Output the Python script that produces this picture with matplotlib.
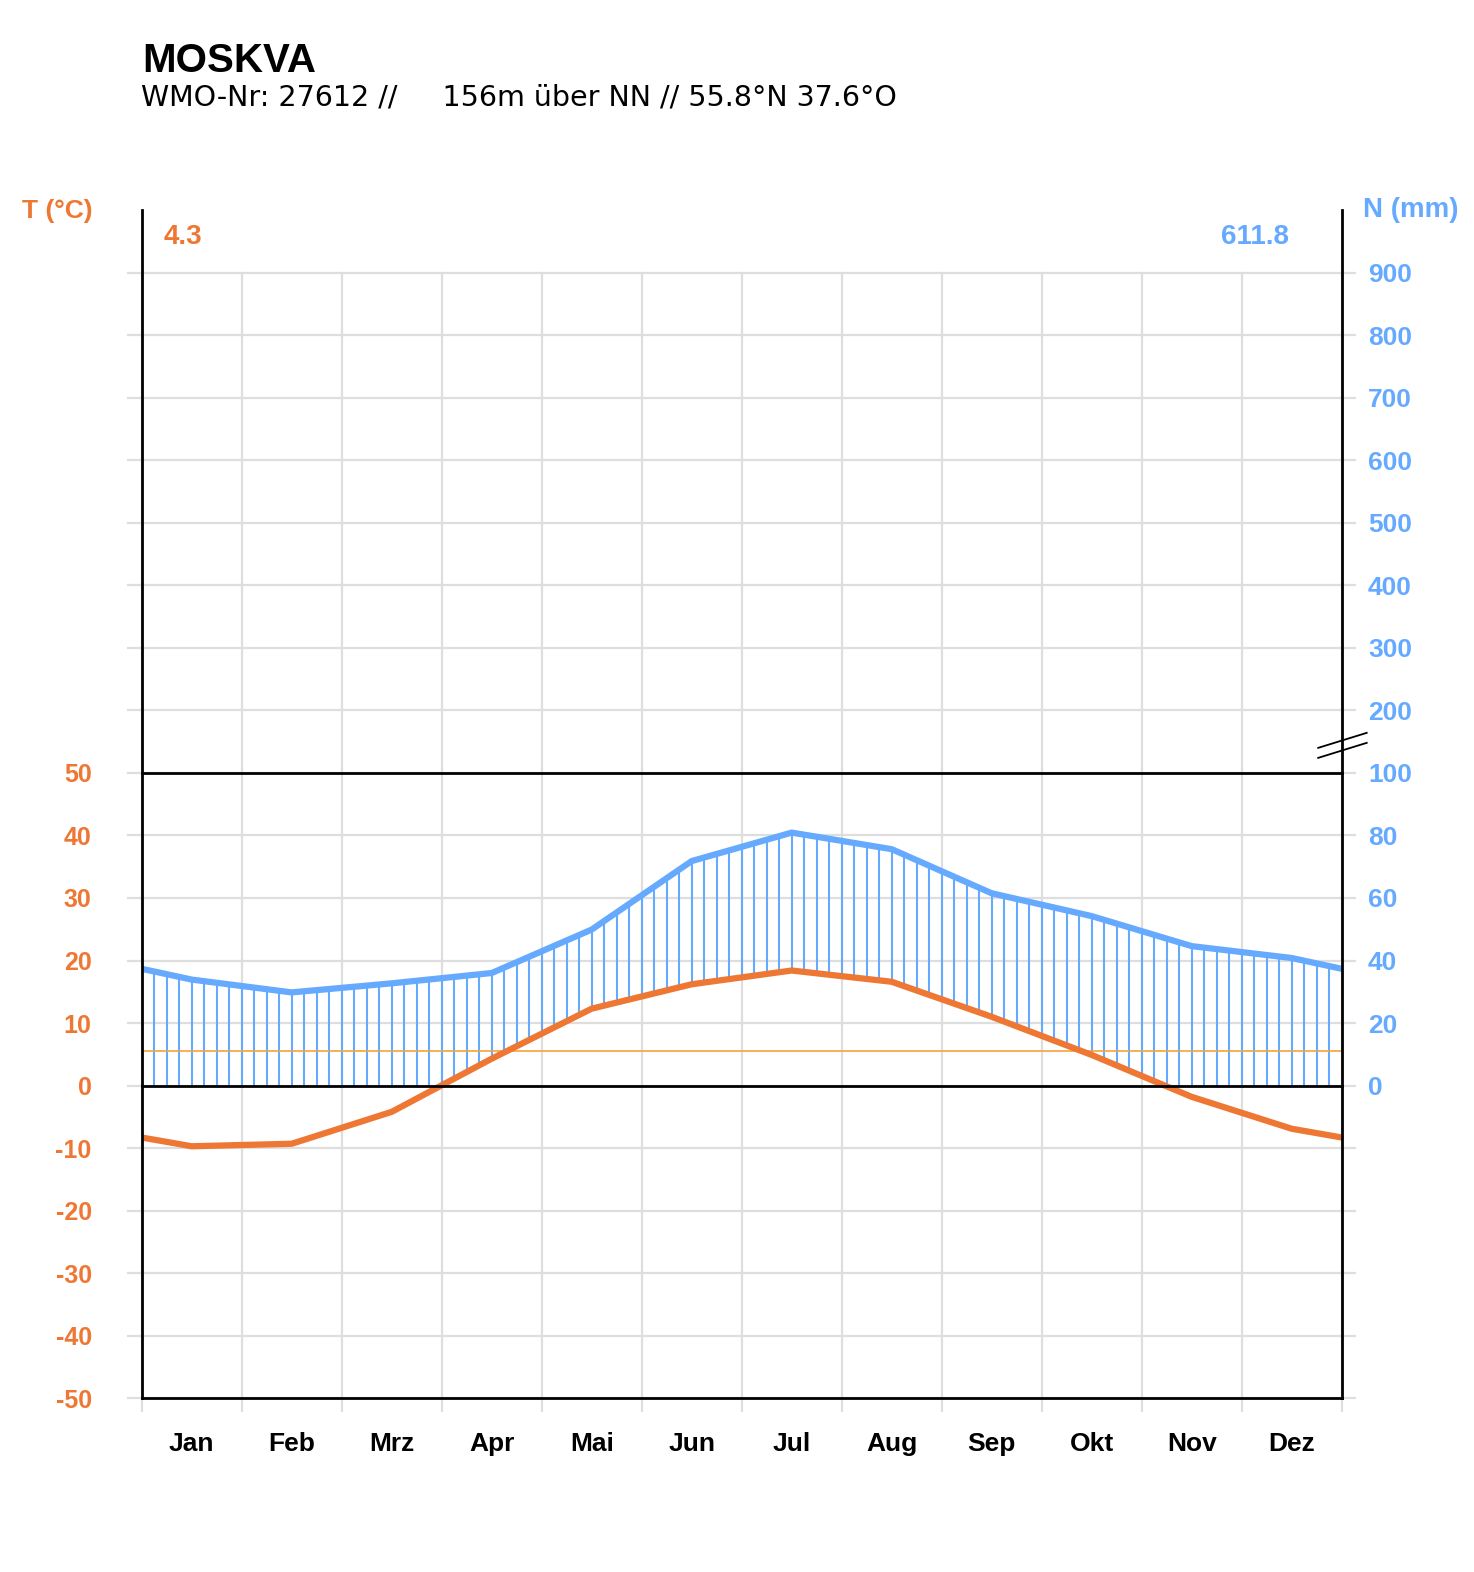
import matplotlib
matplotlib.use("Agg")
import matplotlib.pyplot as plt
import numpy as np

# climate data, Moskva
months = ["Jan", "Feb", "Mrz", "Apr", "Mai", "Jun", "Jul", "Aug", "Sep", "Okt", "Nov", "Dez"]
temp = [-9.7, -9.3, -4.2, 4.3, 12.3, 16.2, 18.4, 16.6, 11.0, 4.9, -1.8, -6.9]
precip = [33.9, 29.8, 32.7, 36.0, 49.9, 71.8, 80.9, 75.6, 61.5, 54.2, 44.6, 40.8]
temp_ticks = [-50, -40, -30, -20, -10, 0, 10, 20, 30, 40, 50]
precip_ticks = [0, 20, 40, 60, 80, 100, 200, 300, 400, 500, 600, 700, 800, 900]
ref_temp = 5.6
annual_temp = "4.3"
annual_precip = "611.8"

ORANGE = "#EE7733"
BLUE = "#66AAFF"
THIN = "#F5A33A"
GRID = "#DEDEDE"
FONT = "Liberation Sans"

W, H = 1474, 1572
fig = plt.figure(figsize=(W / 100, H / 100), dpi=100)
L, R, T, B = 141.7, 1341.7, 210.0, 1398.3
ax = fig.add_axes([L / W, 1 - B / H, (R - L) / W, (B - T) / H])
ax.set_xlim(0, 12)
ax.set_ylim(-50, 140)
for s in ax.spines.values():
    s.set_visible(False)


def p2t(p):
    # precipitation scale: 20 mm per 10 °C up to 100 mm, compressed above
    p = np.asarray(p, dtype=float)
    return np.where(p <= 100, p / 2.0, 50 + (p - 100) / 10.0)


# grid
for y in range(-50, 140, 10):
    ax.plot([-0.137, 12.135], [y, y], color=GRID, lw=1.6, zorder=1, clip_on=False)
for m in range(13):
    ax.plot([m, m], [-52.1, 130], color=GRID, lw=1.6, zorder=1, clip_on=False)

# cyclic month curves
xm = np.arange(-0.5, 13.0, 1.0)
t_ext = np.array([temp[-1]] + temp + [temp[0]])
p_ext = p2t([precip[-1]] + precip + [precip[0]])

# humid period hatching
xs = np.arange(1, 96) / 8.0
t_at = np.interp(xs, xm, t_ext)
p_at = np.interp(xs, xm, p_ext)
ax.vlines(xs, np.maximum(t_at, 0), p_at, color=BLUE, lw=1.5, zorder=2)

ax.plot([0, 12], [ref_temp, ref_temp], color=THIN, lw=1.2, zorder=3)

ax.plot(xm, p_ext, color=BLUE, lw=4.5, zorder=4, solid_capstyle="butt")
ax.plot(xm, t_ext, color=ORANGE, lw=4.5, zorder=5, solid_capstyle="butt")

# frame
k = dict(color="black", lw=2.0, zorder=6, clip_on=False)
ax.plot([0, 0], [-50, 140], **k)
ax.plot([12, 12], [-50, 140], **k)
ax.plot([0, 12], [-50, -50], **k)
ax.plot([0, 12], [0, 0], **k)
ax.plot([0, 12], [50, 50], **k)

# axis break mark on the right axis
for dy in (0.0, -1.6):
    ax.plot([11.765, 12.25], [54.0 + dy, 56.4 + dy], color="black", lw=1.3,
            zorder=7, clip_on=False)

# ticks
ax.set_xticks(np.arange(12) + 0.5)
ax.set_xticklabels(months, fontfamily=FONT, fontweight="bold", fontsize=19)
ax.tick_params(axis="x", length=0, pad=24)
ax.set_yticks(temp_ticks)
ax.set_yticklabels([str(v) for v in temp_ticks], fontfamily=FONT,
                   fontweight="bold", fontsize=18, color=ORANGE)
ax.tick_params(axis="y", length=0, pad=36)

ax2 = ax.twinx()
ax2.set_ylim(ax.get_ylim())
for s in ax2.spines.values():
    s.set_visible(False)
ax2.set_yticks(p2t(precip_ticks))
ax2.set_yticklabels([str(v) for v in precip_ticks], fontfamily=FONT,
                    fontweight="bold", fontsize=19, color=BLUE)
ax2.tick_params(axis="y", length=0, pad=19)

# texts
fig.text(57 / W, 1 - 211 / H, "T (°C)", color=ORANGE, fontfamily=FONT,
         fontweight="bold", fontsize=19, ha="center", va="center")
fig.text(1411 / W, 1 - 210 / H, "N (mm)", color=BLUE, fontfamily=FONT,
         fontweight="bold", fontsize=20, ha="center", va="center")
fig.text(164 / W, 1 - 237 / H, annual_temp, color=ORANGE, fontfamily=FONT,
         fontweight="bold", fontsize=20, ha="left", va="center")
fig.text(1289 / W, 1 - 237 / H, annual_precip, color=BLUE, fontfamily=FONT,
         fontweight="bold", fontsize=20, ha="right", va="center")

fig.text(142 / W, 1 - 71.7 / H, "MOSKVA", fontfamily=FONT, fontweight="bold",
         fontsize=29, ha="left", va="baseline")
fig.text(141 / W, 1 - 105 / H, "WMO-Nr: 27612 //     156m über NN // 55.8°N 37.6°O",
         fontfamily="DejaVu Sans", fontsize=20.5, ha="left", va="baseline")

fig.savefig("out.png", dpi=100, facecolor="white")
